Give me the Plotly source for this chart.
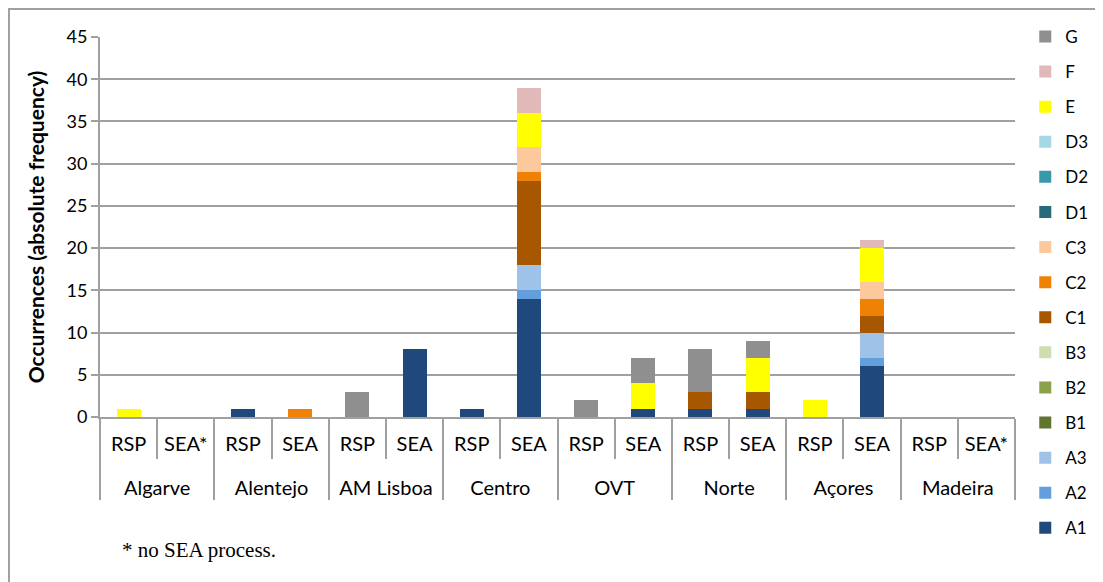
import plotly.graph_objects as go

# regions (outer level) and process type (inner level)
regions = ["Algarve", "Algarve", "Alentejo", "Alentejo", "AM Lisboa", "AM Lisboa",
           "Centro", "Centro", "OVT", "OVT", "Norte", "Norte", "Açores", "Açores",
           "Madeira", "Madeira"]
process = ["RSP", "SEA*", "RSP", "SEA", "RSP", "SEA", "RSP", "SEA",
           "RSP", "SEA", "RSP", "SEA", "RSP", "SEA", "RSP", "SEA*"]

# occurrences per category, one list per class
A1 = [0, 0, 1, 0, 0, 8, 1, 14, 0, 1, 1, 1, 0, 6, 0, 0]
A2 = [0, 0, 0, 0, 0, 0, 0, 1, 0, 0, 0, 0, 0, 1, 0, 0]
A3 = [0, 0, 0, 0, 0, 0, 0, 3, 0, 0, 0, 0, 0, 3, 0, 0]
B1 = [0] * 16
B2 = [0] * 16
B3 = [0] * 16
C1 = [0, 0, 0, 0, 0, 0, 0, 10, 0, 0, 2, 2, 0, 2, 0, 0]
C2 = [0, 0, 0, 1, 0, 0, 0, 1, 0, 0, 0, 0, 0, 2, 0, 0]
C3 = [0, 0, 0, 0, 0, 0, 0, 3, 0, 0, 0, 0, 0, 2, 0, 0]
D1 = [0] * 16
D2 = [0] * 16
D3 = [0] * 16
E = [1, 0, 0, 0, 0, 0, 0, 4, 0, 3, 0, 4, 2, 4, 0, 0]
F = [0, 0, 0, 0, 0, 0, 0, 3, 0, 0, 0, 0, 0, 1, 0, 0]
G = [0, 0, 0, 0, 3, 0, 0, 0, 2, 3, 5, 2, 0, 0, 0, 0]

series = [
    ("A1", A1, "#1F497D"), ("A2", A2, "#629FDC"), ("A3", A3, "#9EC2E8"),
    ("B1", B1, "#5F7530"), ("B2", B2, "#8BA24A"), ("B3", B3, "#CFDDAF"),
    ("C1", C1, "#A65700"), ("C2", C2, "#EF8104"), ("C3", C3, "#FCC99C"),
    ("D1", D1, "#276A7A"), ("D2", D2, "#3A98AC"), ("D3", D3, "#A6D7E4"),
    ("E", E, "#FFFF00"), ("F", F, "#E2B9B9"), ("G", G, "#8F8F8F"),
]

# extra empty line under the inner labels pushes the region row down
inner = [p + "<br> " for p in process]

fig = go.Figure()
for i, (name, vals, col) in enumerate(series):
    fig.add_trace(go.Bar(
        x=[regions, inner], y=vals, name=name, marker_color=col,
        marker_line_width=0, legendgroup=name, legendrank=100 - i,
    ))

grey = "#A0A0A0"
# page body has an 8px margin, so the figure is a bit smaller than the window
fig.update_layout(
    barmode="stack",
    bargap=0.58,
    width=1095, height=574,
    margin=dict(l=92, r=88, t=29, b=165),
    paper_bgcolor="white", plot_bgcolor="white",
    font=dict(family="Lato, Noto Sans, sans-serif", size=18, color="black"),
    legend=dict(xref="container", yref="container", x=0.929, y=0.981,
                xanchor="left", yanchor="top", tracegroupgap=10,
                font=dict(size=17), itemwidth=30, maxheight=570),
    xaxis=dict(type="multicategory", showline=True, linecolor=grey, linewidth=2,
               ticks="outside", tickson="boundaries", ticklen=40, tickcolor=grey,
               tickwidth=2, dividercolor=grey, dividerwidth=2, automargin=False,
               tickfont=dict(size=20), ticklabelstandoff=8),
    yaxis=dict(range=[0, 45], dtick=5, showgrid=True, gridcolor=grey, gridwidth=2,
               showline=True, linecolor=grey, linewidth=2, ticks="outside",
               ticklen=7, tickcolor=grey, tickwidth=2, zeroline=False,
               automargin=False,
               title=dict(text="<b>Occurrences (absolute frequency)</b>",
                          font=dict(size=21), standoff=16)),
    # chart frame: only top and left edges are visible in the crop
    shapes=[dict(type="rect", xref="paper", yref="paper",
                 x0=-0.0995, x1=1.3, y0=-0.7, y1=1.0737,
                 line=dict(color=grey, width=2))],
    annotations=[dict(text="* no SEA process.", xref="paper", yref="paper",
                      x=0.022, y=-0.35, xanchor="left", yanchor="middle",
                      showarrow=False,
                      font=dict(family="Liberation Serif, serif", size=21))],
)

fig.write_html("out.html")
